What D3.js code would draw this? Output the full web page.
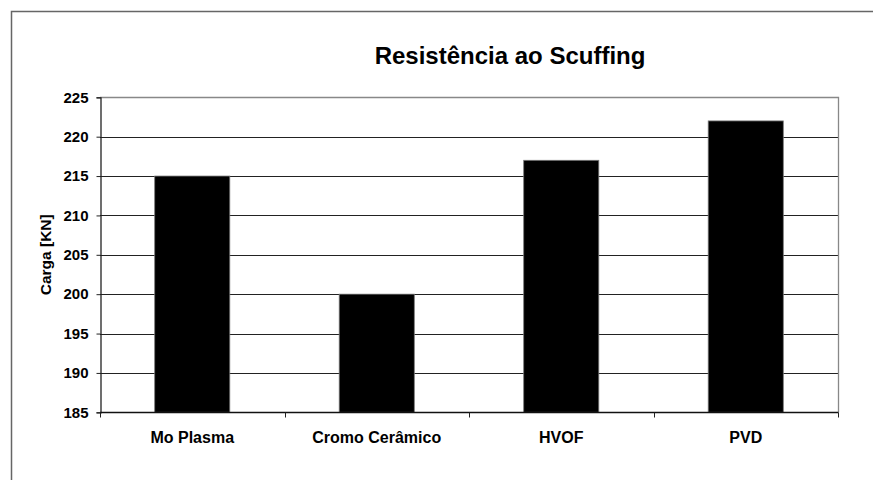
<!DOCTYPE html>
<html>
<head>
<meta charset="utf-8">
<script src="https://cdn.jsdelivr.net/npm/d3@7"></script>
<style>
  body { margin: 0; background: #fff; }
  svg { display: block; font-family: "Liberation Sans", Arial, sans-serif; font-weight: bold; }
  svg text { font-weight: bold; }
</style>
</head>
<body>
<svg width="873" height="480"></svg>
<script>
// chart data
var categories = ["Mo Plasma", "Cromo Cerâmico", "HVOF", "PVD"];
var cargas = [215, 200, 217, 222];
var yTicks = [185, 190, 195, 200, 205, 210, 215, 220, 225];
var titulo = "Resistência ao Scuffing";
var yTitulo = "Carga [KN]";

var svg = d3.select("svg");

// outer frame, runs off the right and bottom edge
svg.append("rect")
    .attr("x", 11.5).attr("y", 11.5)
    .attr("width", 900).attr("height", 500)
    .attr("fill", "none")
    .attr("stroke", "#666")
    .attr("stroke-width", 1.5);

var plotL = 100, plotR = 838, plotT = 97.3, plotB = 412.3;

var x = d3.scaleBand()
    .domain(categories)
    .range([plotL, plotR])
    .padding(0);

var y = d3.scaleLinear()
    .domain([185, 225])
    .range([plotB, plotT]);

var barW = x.bandwidth() * 0.407;

// gridlines
svg.append("g")
  .selectAll("line")
  .data(yTicks.filter(function(t) { return t > 185 && t < 225; }))
  .enter().append("line")
    .attr("x1", plotL).attr("x2", plotR)
    .attr("y1", function(d) { return Math.round(y(d)) + 0.5; })
    .attr("y2", function(d) { return Math.round(y(d)) + 0.5; })
    .attr("stroke", "#222")
    .attr("stroke-width", 1.2);

// top + right border of plot area
svg.append("path")
    .attr("d", "M" + plotL + "," + (Math.round(plotT) + 0.5) + "H" + (plotR + 0.5) + "V" + plotB)
    .attr("fill", "none")
    .attr("stroke", "#888")
    .attr("stroke-width", 1.3);

// bars
svg.append("g")
  .selectAll("rect")
  .data(cargas)
  .enter().append("rect")
    .attr("x", function(d, i) { return x(categories[i]) + x.bandwidth() / 2 - barW / 2; })
    .attr("y", function(d) { return y(d); })
    .attr("width", barW)
    .attr("height", function(d) { return y(185) - y(d); })
    .attr("fill", "#000")
    .attr("stroke", "#777")
    .attr("stroke-width", 0.8);

// y axis
var yAxis = d3.axisLeft(y).tickValues(yTicks).tickSize(4).tickPadding(8);
var gy = svg.append("g")
    .attr("transform", "translate(" + (plotL + 0.5) + ",0)")
    .call(yAxis);
gy.attr("font-family", null).attr("font-size", null);
gy.select(".domain").attr("stroke", "#222").attr("stroke-width", 1.3);
gy.selectAll(".tick line").attr("stroke", "#222");
gy.selectAll("text")
    .style("font-weight", "bold")
    .style("font-size", "15px")
    .attr("fill", "#000");

// x axis, ticks at category boundaries
var gx = svg.append("g")
    .attr("transform", "translate(0," + (Math.round(plotB) + 0.5) + ")");
gx.append("line")
    .attr("x1", plotL).attr("x2", plotR + 0.5)
    .attr("stroke", "#111").attr("stroke-width", 1.3);
gx.selectAll(".bt")
  .data(categories.concat([null]))
  .enter().append("line")
    .attr("class", "bt")
    .attr("x1", function(d, i) { return Math.round(plotL + i * x.step()) + 0.5; })
    .attr("x2", function(d, i) { return Math.round(plotL + i * x.step()) + 0.5; })
    .attr("y1", 0).attr("y2", 5)
    .attr("stroke", "#222");
gx.selectAll("text")
  .data(categories)
  .enter().append("text")
    .attr("x", function(d) { return x(d) + x.bandwidth() / 2; })
    .attr("y", 30.5)
    .attr("text-anchor", "middle")
    .attr("font-size", 16)
    .text(function(d) { return d; });

// titles
svg.append("text")
    .attr("x", 510).attr("y", 64)
    .attr("text-anchor", "middle")
    .attr("font-size", 24)
    .text(titulo);

svg.append("text")
    .attr("transform", "translate(51," + ((plotT + plotB) / 2) + ") rotate(-90)")
    .attr("text-anchor", "middle")
    .attr("font-size", 15.5)
    .text(yTitulo);
</script>
</body>
</html>
